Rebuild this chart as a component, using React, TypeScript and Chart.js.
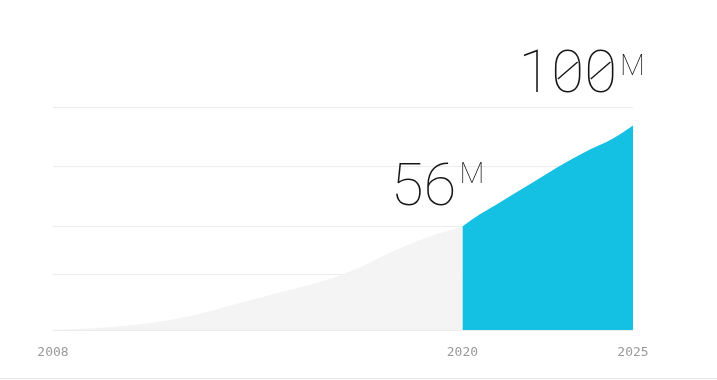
import React, { useEffect, useRef } from "react";
import { Chart, registerables } from "chart.js";

Chart.register(...registerables);

// Axis ticks and horizontal guide lines
const tickYears = [2008, 2020, 2025];
const gridValues = [11, 35, 56, 82, 108];

// Historical users (millions), grey area
const historyYears = [2008, 2009, 2010, 2011, 2012, 2013, 2014, 2015, 2016, 2017, 2018, 2019, 2020];
const historyValues = [11, 11.6, 12.7, 14.4, 17, 20.8, 24.8, 28.6, 32.6, 38.3, 45.5, 51.5, 56];

// Projected users (millions), blue area
const forecastYears = [2020, 2020.5, 2021, 2022, 2023, 2023.75, 2024.4, 2025];
const forecastValues = [56, 61.2, 65.6, 74.6, 83.6, 89.6, 94.2, 100];

// Big callouts
const calloutYears = [2020, 2025];
const calloutValues = [56, 100];
const calloutUnit = "M";

const BLUE = "#15c1e3";
const GREY_FILL = "#f4f4f4";
const GRID = "#ececec";
const INK = "#161616";

const NUM_SIZE = 60;
const UNIT_SIZE = 29;

// offsets of each callout relative to its data point: [numberRight, numberBaseline, unitLeft, unitBaseline]
const calloutOffsets = [
  [-6, -21.5, -3, -43.5],
  [-16, -33.5, -13, -50.5],
];

// draws a number left-to-right and crosses its zeros with a thin slash
function drawSlashedNumber(ctx: CanvasRenderingContext2D, text: string, right: number, baseline: number) {
  const total = ctx.measureText(text).width;
  const left = right - total;
  ctx.textAlign = "left";
  ctx.fillText(text, left, baseline);
  const h = NUM_SIZE * 0.711;
  ctx.lineWidth = 1.4;
  for (let i = 0; i < text.length; i++) {
    if (text[i] !== "0") continue;
    const start = left + ctx.measureText(text.slice(0, i)).width;
    const adv = ctx.measureText("0").width;
    ctx.beginPath();
    ctx.moveTo(start + adv * 0.2, baseline - h * 0.3);
    ctx.lineTo(start + adv * 0.8, baseline - h * 0.7);
    ctx.stroke();
  }
}

const calloutPlugin = {
  id: "callouts",
  afterDatasetsDraw(chart: any) {
    const { ctx, scales } = chart;
    ctx.save();
    ctx.fillStyle = INK;
    ctx.strokeStyle = INK;
    ctx.textBaseline = "alphabetic";
    calloutYears.forEach((yr, i) => {
      const px = scales.x.getPixelForValue(yr);
      const py = scales.y.getPixelForValue(calloutValues[i]);
      const [nx, ny, ux, uy] = calloutOffsets[i];
      ctx.font = `100 ${NUM_SIZE}px Roboto`;
      drawSlashedNumber(ctx, String(calloutValues[i]), px + nx, py + ny);
      ctx.font = `100 ${UNIT_SIZE}px Roboto`;
      ctx.textAlign = "left";
      ctx.fillText(calloutUnit, px + ux, py + uy);
    });
    ctx.restore();
  },
  afterDraw(chart: any) {
    const { ctx, width, height } = chart;
    ctx.save();
    ctx.strokeStyle = "#e6e6e6";
    ctx.lineWidth = 1;
    ctx.beginPath();
    ctx.moveTo(0, height - 1.5);
    ctx.lineTo(width, height - 1.5);
    ctx.stroke();
    ctx.restore();
  },
};

export default function App() {
  const ref = useRef<HTMLCanvasElement | null>(null);

  useEffect(() => {
    if (!ref.current) return;
    const chart = new Chart(ref.current, {
      type: "line",
      data: {
        datasets: [
          {
            data: forecastYears.map((x, i) => ({ x, y: forecastValues[i] })),
            fill: "start",
            backgroundColor: BLUE,
            borderWidth: 0,
            pointRadius: 0,
            cubicInterpolationMode: "monotone",
          },
          {
            data: historyYears.map((x, i) => ({ x, y: historyValues[i] })),
            fill: "start",
            backgroundColor: GREY_FILL,
            borderWidth: 0,
            pointRadius: 0,
            cubicInterpolationMode: "monotone",
          },
        ],
      },
      options: {
        animation: false,
        responsive: false,
        maintainAspectRatio: false,
        events: [],
        layout: { padding: { left: 53, right: 84, top: 107, bottom: 0 } },
        plugins: { legend: { display: false }, tooltip: { enabled: false } },
        scales: {
          x: {
            type: "linear",
            min: 2008,
            max: 2025,
            afterBuildTicks: (s: any) => {
              s.ticks = tickYears.map((v) => ({ value: v }));
            },
            afterFit: (s: any) => {
              s.height = 50;
            },
            grid: { display: false },
            border: { display: false },
            ticks: {
              padding: 7,
              color: "#9a9a9a",
              font: { family: "DejaVu Sans Mono", size: 13 },
              maxRotation: 0,
              autoSkip: false,
              callback: (v: any) => String(v),
            },
          },
          y: {
            min: 11,
            max: 108,
            afterBuildTicks: (s: any) => {
              s.ticks = gridValues.map((v) => ({ value: v }));
            },
            afterFit: (s: any) => {
              s.width = 0;
            },
            ticks: { display: false },
            grid: { color: GRID, drawTicks: false, lineWidth: 1 },
            border: { display: false },
          },
        },
      },
      plugins: [calloutPlugin],
    });
    return () => chart.destroy();
  }, []);

  return (
    <div style={{ position: "absolute", left: 0, top: 0, width: 717, height: 380, background: "#fff" }}>
      <canvas ref={ref} width={717} height={380} style={{ display: "block" }} />
    </div>
  );
}
